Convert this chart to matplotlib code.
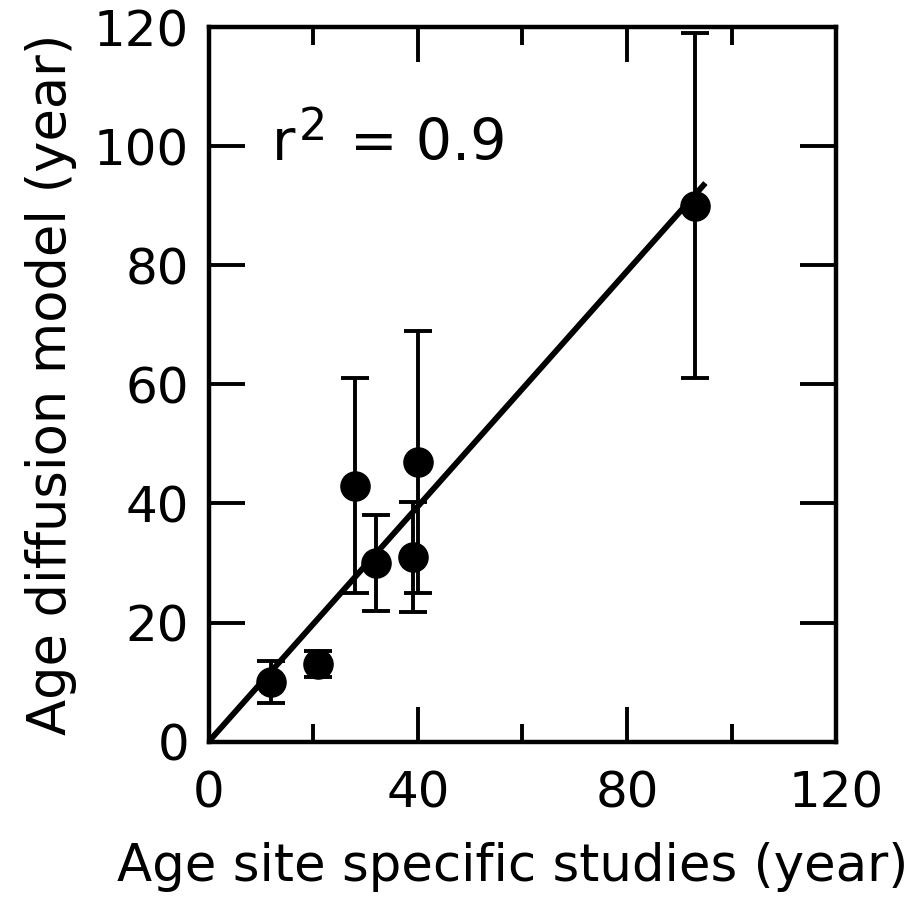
import numpy as np
import matplotlib
matplotlib.use('Agg')
import matplotlib.pyplot as plt
from matplotlib.ticker import MultipleLocator

plt.rcParams['font.family'] = ['DejaVu Sans']

# site specific age vs diffusion model age (years)
age_site = [12, 21, 28, 32, 39, 40, 93]
age_model = [10, 13, 43, 30, 31, 47, 90]
err_model = [3.5, 2.2, 18, 8, 9.3, 22, 29]

# fitted line (through origin)
fit_x = [0, 95]
fit_y = [0, 93.8]

fig = plt.figure(figsize=(9.16, 9.10), dpi=100)
ax = fig.add_axes([0.2278, 0.185, 0.685, 0.7853])

ax.plot(fit_x, fit_y, color='black', lw=4.2, solid_capstyle='butt', zorder=2)
ax.errorbar(age_site, age_model, yerr=err_model, fmt='o', color='black',
            ms=21, elinewidth=2.8, capsize=10.4, capthick=2.8, zorder=3)

ax.set_xlim(0, 120)
ax.set_ylim(0, 120)
ax.xaxis.set_major_locator(MultipleLocator(40))
ax.xaxis.set_minor_locator(MultipleLocator(20))
ax.yaxis.set_major_locator(MultipleLocator(20))

ax.tick_params(axis='x', which='major', direction='in', length=25, width=2.8,
               top=True, labelsize=36, pad=20)
ax.tick_params(axis='x', which='minor', direction='in', length=13, width=2.8,
               top=True)
ax.tick_params(axis='y', which='major', direction='in', length=26, width=2.8,
               right=True, labelsize=36, pad=14)
for s in ax.spines.values():
    s.set_linewidth(3.2)

ax.set_xlabel('Age site specific studies (year)', fontsize=37, labelpad=18)
ax.xaxis.label.set_x(0.485)
ax.set_ylabel('Age diffusion model (year)', fontsize=38, labelpad=12)

# r^2 annotation
ax.text(12.1, 97.7, 'r', fontsize=41, va='baseline', ha='left')
ax.text(17.3, 101.0, '2', fontsize=32, va='baseline', ha='left')
ax.text(27.0, 97.7, '= 0.9', fontsize=41, va='baseline', ha='left')

plt.savefig('out.png', dpi=100)
